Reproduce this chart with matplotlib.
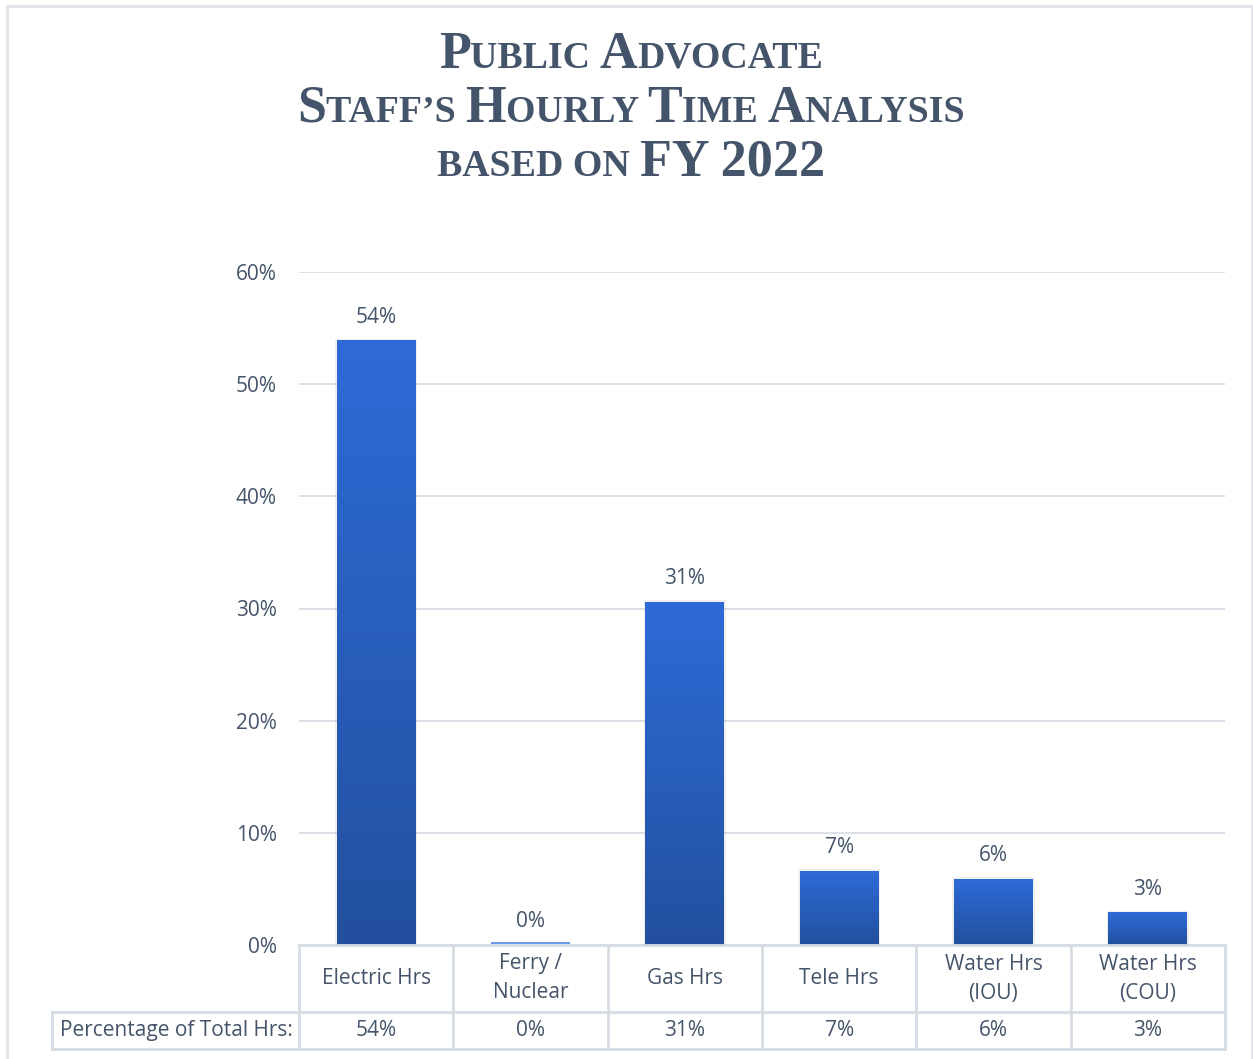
import numpy as np
import matplotlib
matplotlib.use("Agg")
import matplotlib.pyplot as plt
from matplotlib.colors import LinearSegmentedColormap
from matplotlib.patches import Rectangle
from matplotlib.lines import Line2D
import matplotlib.transforms as mtransforms

# Dados
categorias = ["Electric Hrs", "Ferry /\nNuclear", "Gas Hrs", "Tele Hrs", "Water Hrs\n(IOU)", "Water Hrs\n(COU)"]
valores = [53.9, 0.05, 30.6, 6.6, 5.9, 2.9]
rotulos = ["54%", "0%", "31%", "7%", "6%", "3%"]
rotulo_linha = "Percentage of Total Hrs:"
yticks = [0, 10, 20, 30, 40, 50, 60]

# Cores
cor_texto = "#44546A"
cor_grade = "#D9DEE6"
cor_tabela = "#D6DCE4"
azul_topo = "#2E6BD8"
azul_base = "#22509E"

plt.rcParams['font.family'] = ['Open Sans', 'DejaVu Sans']
fs = 15

fig = plt.figure(figsize=(12.53, 10.59), dpi=100)
W, H = 1253, 1059
ax = fig.add_axes([299 / W, 1 - 945 / H, 926 / W, 673 / H])
ax.set_xlim(-0.5, len(categorias) - 0.5)
ax.set_ylim(0, 60)

# Borda externa
fig.patches.append(Rectangle((6.5 / W, -0.01), 1245 / W, 1 - 5.5 / H + 0.01,
                             transform=fig.transFigure, fill=False,
                             edgecolor="#E1E4E9", linewidth=2))

# Grade
for s in ax.spines.values():
    s.set_visible(False)
ax.set_yticks(yticks)
ax.set_yticklabels([f"{v}%" for v in yticks], fontsize=fs, color=cor_texto)
ax.tick_params(axis="y", length=0, pad=16)
ax.set_xticks([])
ax.grid(axis="y", color=cor_grade, linewidth=1.3)
ax.set_axisbelow(True)

# Barras com gradiente
cmap = LinearSegmentedColormap.from_list("azul", [azul_base, azul_topo])
grad = np.linspace(0, 1, 256).reshape(-1, 1)
largura = 0.51
barras = ax.bar(range(len(valores)), valores, width=largura, color="none", zorder=3)
for b in barras:
    x0, y0 = b.get_x(), b.get_y()
    w, h = b.get_width(), b.get_height()
    if h < 0.5:
        # barra quase nula: so uma linha azul clara
        ax.plot([x0, x0 + w], [0.18, 0.18], color="#5B8FE3", linewidth=1.3,
                zorder=6, solid_capstyle="butt")
        continue
    # sombra leve
    ax.add_patch(Rectangle((x0 - 0.012, y0), w + 0.024, h + 0.15, color="#000000",
                           alpha=0.06, zorder=2, linewidth=0))
    im = ax.imshow(grad, extent=(x0, x0 + w, y0, y0 + h), origin="lower",
                   cmap=cmap, aspect="auto", zorder=3)
    im.set_clip_path(b)

for i, (v, r) in enumerate(zip(valores, rotulos)):
    ax.annotate(r, (i, v), xytext=(0, 9), textcoords="offset points",
                ha="center", va="bottom", fontsize=fs, color=cor_texto)

# Tabela de dados
trans = mtransforms.blended_transform_factory(ax.transData, ax.transAxes)
y_topo = 0
y_meio = -(1012 - 945) / 673
y_base = -(1049 - 945) / 673
x_esq = -0.5 - (299 - 52) / 926 * len(categorias)
n = len(categorias)
kw = dict(color=cor_tabela, linewidth=2, clip_on=False, transform=trans, zorder=5)
ax.add_line(Line2D([-0.5, n - 0.5], [y_topo, y_topo], **kw))
ax.add_line(Line2D([x_esq, n - 0.5], [y_meio, y_meio], **kw))
ax.add_line(Line2D([x_esq, n - 0.5], [y_base, y_base], **kw))
ax.add_line(Line2D([x_esq, x_esq], [y_meio, y_base], **kw))
for i in range(n + 1):
    ax.add_line(Line2D([i - 0.5, i - 0.5], [y_topo, y_base], **kw))

for i, (c, r) in enumerate(zip(categorias, rotulos)):
    ax.text(i, (y_topo + y_meio) / 2, c, transform=trans, ha="center", va="center",
            fontsize=fs, color=cor_texto, linespacing=1.5)
    ax.text(i, (y_meio + y_base) / 2, r, transform=trans, ha="center", va="center",
            fontsize=fs, color=cor_texto)
ax.text(-0.5 - 0.04, (y_meio + y_base) / 2, rotulo_linha, transform=trans,
        ha="right", va="center", fontsize=fs, color=cor_texto)

# Titulo em versalete
linhas_titulo = [
    [("P", 1), ("UBLIC ", 0), ("A", 1), ("DVOCATE", 0)],
    [("S", 1), ("TAFF\u2019S ", 0), ("H", 1), ("OURLY ", 0), ("T", 1), ("IME ", 0),
     ("A", 1), ("NALYSIS", 0)],
    [("BASED ON ", 0), ("FY 2022", 1)],
]
base_y = [68, 122, 176]
centro_x = 631
fig.canvas.draw()
renderer = fig.canvas.get_renderer()
for partes, by in zip(linhas_titulo, base_y):
    textos = []
    x = 0
    for s, grande in partes:
        t = fig.text(x / W, 1 - by / H, s, fontsize=37.5 if grande else 27.3,
                     family="Liberation Serif", weight="bold", color=cor_texto,
                     ha="left", va="baseline")
        larg = t.get_window_extent(renderer).width
        textos.append((t, x))
        x += larg
    desloc = centro_x - x / 2
    for t, x0 in textos:
        t.set_x((x0 + desloc) / W)

fig.savefig("out.png", dpi=100, facecolor="white")
